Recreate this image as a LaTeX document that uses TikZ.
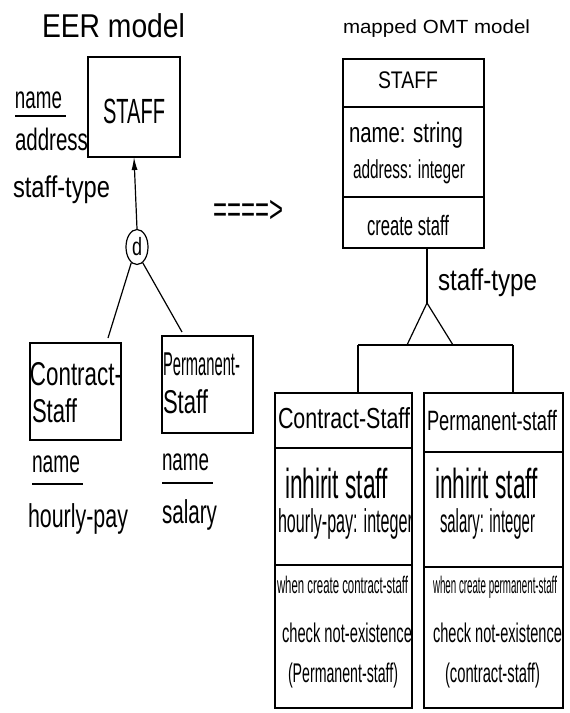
\documentclass[tikz,border=0pt]{standalone}
\usepackage{fontspec}
\setmainfont{Liberation Sans}
\usetikzlibrary{shapes.geometric,arrows.meta}
\newsavebox\fwbox
\newcommand{\fw}[2]{\sbox\fwbox{#2}\pgfmathsetmacro\fwr{#1/\the\wd\fwbox}\scalebox{\fwr}[1]{\usebox\fwbox}}
\tikzset{
  fs/.style={font=\fontsize{#1}{#1}\selectfont},
  txt/.style={anchor=base west, inner sep=0pt, outer sep=0pt},
  boxx/.style={draw, rectangle, inner sep=0pt, outer sep=0pt},
  every path/.style={line width=1.2pt},
}
\begin{document}
\begin{tikzpicture}[x=1pt,y=-1pt]
\useasboundingbox[fill=white] (0,0) rectangle (570,713);
% ---------- EER side ----------
\node[txt,fs=33] (eertitle) at (42,37) {\fw{143}{EER model}};
\node[boxx, minimum width=92pt, minimum height=100pt] (staffE) at (134,107) {};
\node[txt,fs=35] (staffEt) at (103,123) {\fw{62}{STAFF}};
\node[txt,fs=31] (nameE) at (15,108) {\fw{47}{name}};
\draw (15,116) -- (66,116);
\node[txt,fs=31] (addrE) at (15,150) {\fw{73}{address}};
\node[txt,fs=30] (stypeE) at (13,197) {\fw{97}{staff-type}};
\node[draw, ellipse, minimum width=22pt, minimum height=35pt, inner sep=0pt, fs=25] (d) at (137,247) {\fw{10}{d}};
\draw[-{Latex[length=13pt,width=6pt]}] (d.north) -- (staffE.south);
\coordinate (cl) at (108,338);
\coordinate (cr) at (182,332);
\draw (d.250) -- (cl);
\draw (d.290) -- (cr);
\node[boxx, minimum width=91pt, minimum height=97pt] (contE) at (75.5,391.5) {};
\node[txt,fs=33] (contE1) at (30,385) {\fw{92}{Contract-}};
\node[txt,fs=33] (contE2) at (32,422) {\fw{45}{Staff}};
\node[boxx, minimum width=91pt, minimum height=97pt] (permE) at (207.5,384.5) {};
\node[txt,fs=33] (permE1) at (163,375) {\fw{77}{Permanent-}};
\node[txt,fs=33] (permE2) at (163,413) {\fw{45}{Staff}};
\node[txt,fs=31] (nameC) at (32,472) {\fw{48}{name}};
\draw (32,484) -- (83,484);
\node[txt,fs=33] (hpay) at (28,527) {\fw{100}{hourly-pay}};
\node[txt,fs=31] (nameP) at (162,470) {\fw{47}{name}};
\draw (162,483) -- (213,483);
\node[txt,fs=33] (sal) at (162,523) {\fw{55}{salary}};
% ---------- mapping arrow ----------
\node[fs=38, inner sep=0pt] (maparrow) at (248,211) {\fw{70}{====>}};
% ---------- OMT side ----------
\node[txt,fs=19] (omttitle) at (343,33) {\fw{187}{mapped OMT model}};
\node[boxx, minimum width=141pt, minimum height=189pt] (omt) at (413.5,153.5) {};
\draw (omt.west |- 0,107) -- (omt.east |- 0,107);
\draw (omt.west |- 0,197) -- (omt.east |- 0,197);
\node[txt,fs=24] (omtstaff) at (378,88) {\fw{60}{STAFF}};
\node[txt,fs=28] (omtname) at (349,142) {\fw{114}{name: string}};
\node[txt,fs=26] (omtaddr) at (353,178) {\fw{112}{address: integer}};
\node[txt,fs=28] (omtcreate) at (367,235) {\fw{82}{create staff}};
\coordinate (apex) at (427,303);
\coordinate (bl) at (407,345);
\coordinate (br) at (453,345);
\draw (omt.south -| apex) -- (apex);
\draw (apex) -- (bl) -- (br) -- cycle;
\node[txt,fs=30] (stypeO) at (438,290) {\fw{99}{staff-type}};
\node[boxx, minimum width=137pt, minimum height=315pt] (cc) at (343.5,550.5) {};
\node[boxx, minimum width=139pt, minimum height=315pt] (pc) at (493.5,550.5) {};
\coordinate (hl) at (358,345);
\coordinate (hr) at (513,345);
\draw (hl) -- (hr);
\draw (hl) -- (hl |- cc.north);
\draw (hr) -- (hr |- pc.north);
\draw (cc.west |- 0,448) -- (cc.east |- 0,448);
\draw (cc.west |- 0,565) -- (cc.east |- 0,565);
\draw (pc.west |- 0,452) -- (pc.east |- 0,452);
\draw (pc.west |- 0,567) -- (pc.east |- 0,567);
\node[txt,fs=29] (cct) at (278,428) {\fw{132}{Contract-Staff}};
\node[txt,fs=28] (pct) at (427,430) {\fw{130}{Permanent-staff}};
\node[txt,fs=42] (cinh) at (285,498) {\fw{103}{inhirit staff}};
\node[txt,fs=42] (pinh) at (435,498) {\fw{103}{inhirit staff}};
\node[txt,fs=33] (chp) at (278,532) {\fw{135}{hourly-pay: integer}};
\node[txt,fs=33] (psal) at (440,532) {\fw{95}{salary: integer}};
\node[txt,fs=24] (cwhen) at (277,593) {\fw{131}{when create contract-staff}};
\node[txt,fs=24] (pwhen) at (433,593) {\fw{124}{when create permanent-staff}};
\node[txt,fs=27] (cchk) at (282,642) {\fw{130}{check not-existence}};
\node[txt,fs=27] (pchk) at (433,642) {\fw{129}{check not-existence}};
\node[txt,fs=27] (cpar) at (288,682) {\fw{110}{(Permanent-staff)}};
\node[txt,fs=27] (ppar) at (445,682) {\fw{95}{(contract-staff)}};
\end{tikzpicture}
\end{document}
